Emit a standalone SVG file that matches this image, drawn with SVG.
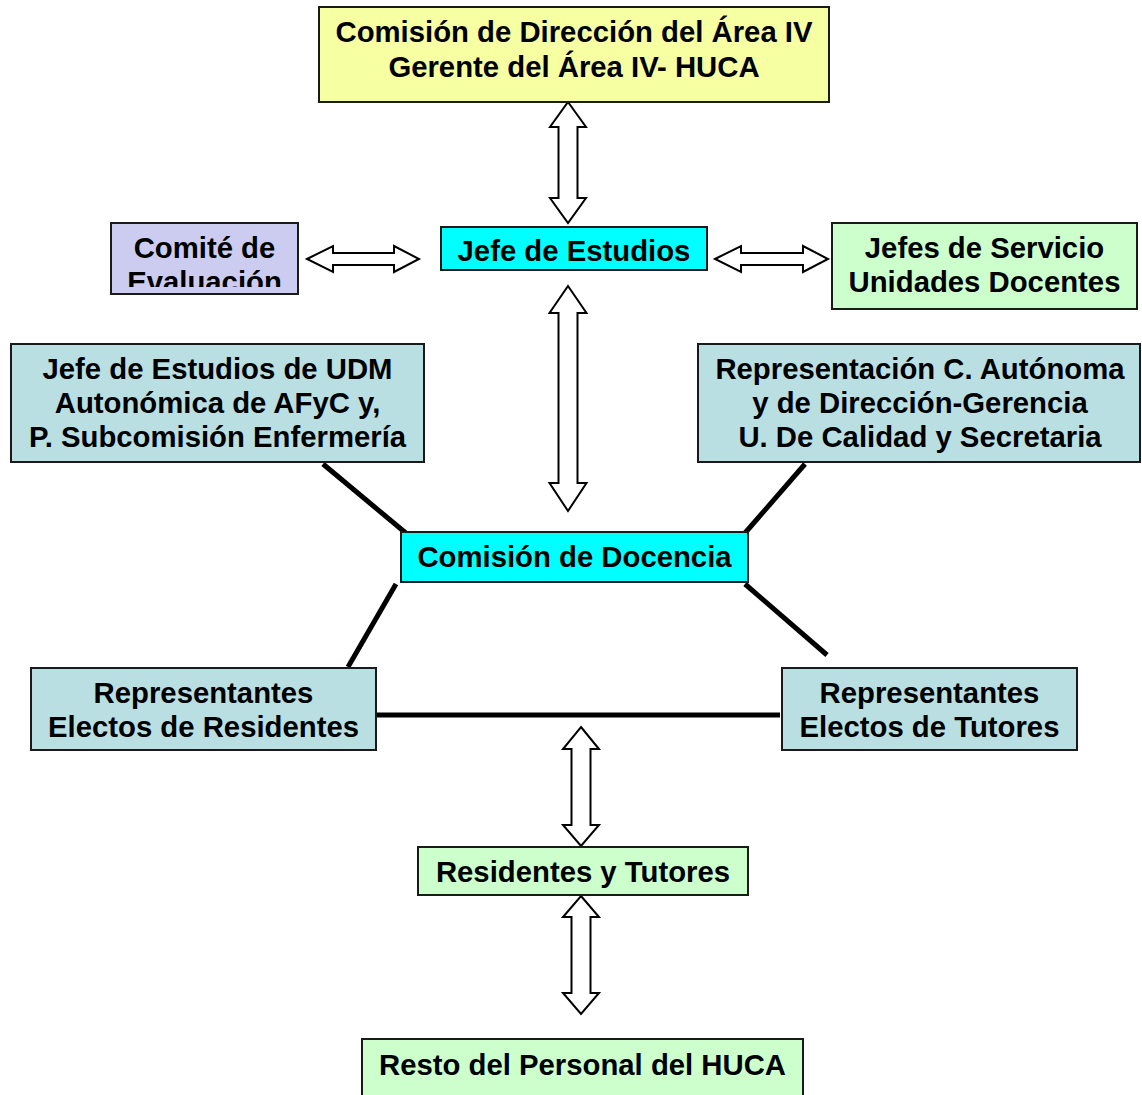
<svg xmlns="http://www.w3.org/2000/svg" width="1142" height="1095" viewBox="0 0 1142 1095">
<style>
.box{stroke:#1a1a1a;stroke-width:2}
.yel{fill:#F6FFA2}
.cyan{fill:#00FFFF}
.lav{fill:#CCCCF0}
.grn{fill:#CCFFCC}
.blu{fill:#B9DFE3}
text{font-family:"Liberation Sans",Arial,sans-serif;font-weight:bold;font-size:29.3px;fill:#000;text-anchor:middle}
.arrow{fill:#fff;stroke:#000;stroke-width:2;stroke-linejoin:miter}
.line{stroke:#000;stroke-width:5;fill:none}
</style>
<defs>
<clipPath id="clipComite"><rect x="111" y="223" width="187" height="64"/></clipPath>
</defs>
<rect width="1142" height="1095" fill="#fff"/>

<g id="connectors">
<path class="arrow" d="M568,102 L586,127 L577.5,127 L577.5,198 L586,198 L568,223 L550,198 L558.5,198 L558.5,127 L550,127 Z"/>
<path class="arrow" d="M568,286 L586.5,313 L577.5,313 L577.5,483 L586.5,483 L568,511 L549.5,483 L558.5,483 L558.5,313 L549.5,313 Z"/>
<path class="arrow" d="M307,259 L333,246 L333,253 L394,253 L394,246 L419,259 L394,272 L394,265 L333,265 L333,272 Z"/>
<path class="arrow" d="M715,259 L741,246 L741,253 L803,253 L803,246 L828,259 L803,272 L803,265 L741,265 L741,272 Z"/>
<path class="arrow" d="M581,727 L599,749 L590.5,749 L590.5,825 L599,825 L581,846 L563,825 L571.5,825 L571.5,749 L563,749 Z"/>
<path class="arrow" d="M581,896 L599,917 L590.5,917 L590.5,993 L599,993 L581,1014 L563,993 L571.5,993 L571.5,917 L563,917 Z"/>
<line class="line" x1="323" y1="464" x2="407" y2="534"/>
<line class="line" x1="805" y1="464" x2="745" y2="533"/>
<line class="line" x1="396" y1="584" x2="348" y2="667"/>
<line class="line" x1="745" y1="584" x2="827" y2="655"/>
<line class="line" x1="373" y1="715" x2="780" y2="715"/>
</g>

<g id="node-direccion">
<rect class="box yel" x="319" y="7" width="510" height="95"/>
<text x="574" y="42">Comisión de Dirección del Área IV</text>
<text x="574" y="77">Gerente del Área IV- HUCA</text>
</g>

<g id="node-comite">
<rect class="box lav" x="111" y="223" width="187" height="71"/>
<g clip-path="url(#clipComite)">
<text x="204.5" y="258">Comité de</text>
<text x="204.5" y="292">Evaluación</text>
</g>
</g>

<g id="node-jefe-estudios">
<rect class="box cyan" x="441" y="227" width="266" height="43"/>
<text x="574" y="261">Jefe de Estudios</text>
</g>

<g id="node-jefes-servicio">
<rect class="box grn" x="832" y="223" width="305" height="86"/>
<text x="984.5" y="258">Jefes de Servicio</text>
<text x="984.5" y="292">Unidades Docentes</text>
</g>

<g id="node-udm">
<rect class="box blu" x="11" y="344" width="413" height="118"/>
<text x="217.5" y="379">Jefe de Estudios de UDM</text>
<text x="217.5" y="413">Autonómica de AFyC y,</text>
<text x="217.5" y="447">P. Subcomisión Enfermería</text>
</g>

<g id="node-representacion">
<rect class="box blu" x="698" y="344" width="442" height="118"/>
<text x="920" y="379">Representación C. Autónoma</text>
<text x="920" y="413">y de Dirección-Gerencia</text>
<text x="920" y="447">U. De Calidad y Secretaria</text>
</g>

<g id="node-comision-docencia">
<rect class="box cyan" x="401" y="532" width="347" height="50"/>
<text x="574.5" y="567">Comisión de Docencia</text>
</g>

<g id="node-rep-residentes">
<rect class="box blu" x="31" y="668" width="345" height="82"/>
<text x="203.5" y="703">Representantes</text>
<text x="203.5" y="737">Electos de Residentes</text>
</g>

<g id="node-rep-tutores">
<rect class="box blu" x="782" y="668" width="295" height="82"/>
<text x="929.5" y="703">Representantes</text>
<text x="929.5" y="737">Electos de Tutores</text>
</g>

<g id="node-residentes-tutores">
<rect class="box grn" x="418" y="847" width="330" height="48"/>
<text x="583" y="882">Residentes y Tutores</text>
</g>

<g id="node-resto">
<rect class="box grn" x="362" y="1039" width="441" height="70"/>
<text x="582.5" y="1075">Resto del Personal del HUCA</text>
</g>
</svg>
